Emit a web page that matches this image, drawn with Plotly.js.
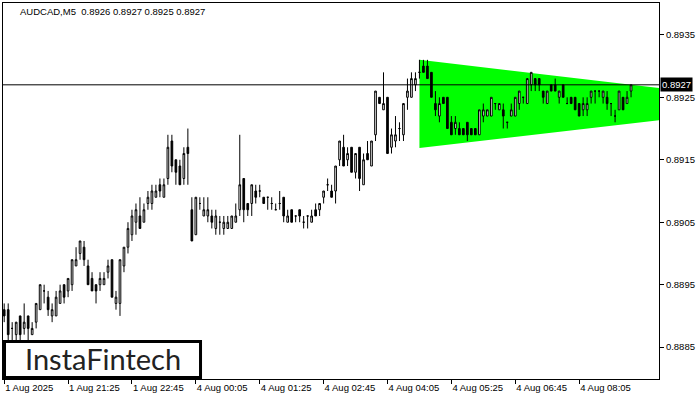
<!DOCTYPE html>
<html>
<head>
<meta charset="utf-8">
<script src="https://cdn.plot.ly/plotly-3.0.1.min.js"></script>
<style>html,body{margin:0;padding:0;background:#fff;}#chart{width:700px;height:400px;}</style>
</head>
<body>
<div id="chart"></div>
<script>
// AUDCAD M5 candles (bar index 0 = 1 Aug 2025 20:05)
const openP = [0.8891,0.8891,0.8888,0.8887,0.8890,0.8888,0.8890,0.8887,0.8889,0.8891,
0.8894,0.8893,0.8890,0.8890,0.8892,0.8895,0.8894,0.8895,0.8898,0.8900,
0.8901,0.8898,0.8896,0.8895,0.8895,0.8895,0.8897,0.8899,0.8892,0.8892,
0.8898,0.8901,0.8903,0.8905,0.8906,0.8905,0.8908,0.8908,0.8909,0.8911,
0.8909,0.8912,0.8918,0.8915,0.8914,0.8912,0.8917,0.8907,0.8903,0.8908,
0.8906,0.8906,0.8906,0.8904,0.8905,0.8904,0.8904,0.8904,0.8905,0.8907,
0.8912,0.8908,0.8908,0.8910,0.8910,0.8909,0.8909,0.8908,0.8907,0.8908,
0.8909,0.8905,0.8907,0.8906,0.8907,0.8905,0.8906,0.8905,0.8907,0.8907,
0.8909,0.8911,0.8910,0.8910,0.8915,0.8917,0.8915,0.8917,0.8913,0.8917,
0.8911,0.8916,0.8914,0.8919,0.8925,0.8923,0.8925,0.8917,0.8918,0.8920,
0.8919,0.8925,0.8925,0.8927,0.8929,0.8930,0.8930,0.8929,0.8924,0.8922,
0.8925,0.8925,0.8921,0.8920,0.8920,0.8920,0.8921,0.8920,0.8920,0.8919,
0.8922,0.8922,0.8922,0.8924,0.8923,0.8923,0.8921,0.8922,0.8922,0.8924,
0.8925,0.8924,0.8927,0.8928,0.8928,0.8926,0.8924,0.8927,0.8927,0.8925,
0.8927,0.8924,0.8925,0.8925,0.8924,0.8923,0.8923,0.8925,0.8926,0.8926,
0.8925,0.8925,0.8924,0.8922,0.8923,0.8925,0.8924,0.8926];
const highP = [0.8892,0.8892,0.8889,0.8889,0.8890,0.8892,0.8890,0.8889,0.8892,0.8895,
0.8895,0.8894,0.8892,0.8894,0.8895,0.8895,0.8896,0.8899,0.8901,0.8902,
0.8902,0.8899,0.8897,0.8895,0.8897,0.8897,0.8899,0.8899,0.8894,0.8899,
0.8901,0.8905,0.8907,0.8908,0.8909,0.8908,0.8910,0.8911,0.8911,0.8912,
0.8912,0.8919,0.8919,0.8915,0.8915,0.8917,0.8920,0.8909,0.8909,0.8909,
0.8909,0.8909,0.8907,0.8907,0.8906,0.8906,0.8906,0.8906,0.8908,0.8919,
0.8912,0.8908,0.8911,0.8911,0.8911,0.8909,0.8909,0.8909,0.8908,0.8910,
0.8909,0.8907,0.8907,0.8906,0.8907,0.8906,0.8906,0.8907,0.8908,0.8908,
0.8910,0.8912,0.8911,0.8914,0.8918,0.8919,0.8917,0.8917,0.8916,0.8917,
0.8916,0.8918,0.8918,0.8926,0.8925,0.8929,0.8925,0.8920,0.8922,0.8921,
0.8924,0.8928,0.8929,0.8929,0.8931,0.8931,0.8931,0.8929,0.8926,0.8925,
0.8925,0.8925,0.8922,0.8922,0.8921,0.8920,0.8921,0.8920,0.8920,0.8923,
0.8924,0.8923,0.8925,0.8924,0.8924,0.8924,0.8921,0.8924,0.8925,0.8926,
0.8925,0.8928,0.8929,0.8928,0.8928,0.8926,0.8926,0.8927,0.8928,0.8926,
0.8927,0.8925,0.8925,0.8925,0.8924,0.8925,0.8925,0.8926,0.8926,0.8926,
0.8926,0.8926,0.8924,0.8923,0.8926,0.8925,0.8926,0.8927];
const lowP = [0.8889,0.8886,0.8886,0.8886,0.8886,0.8887,0.8886,0.8887,0.8888,0.8891,
0.8892,0.8890,0.8889,0.8890,0.8892,0.8892,0.8893,0.8894,0.8898,0.8899,
0.8898,0.8895,0.8894,0.8892,0.8894,0.8895,0.8896,0.8893,0.8891,0.8890,
0.8897,0.8900,0.8902,0.8903,0.8904,0.8905,0.8907,0.8907,0.8909,0.8909,
0.8909,0.8911,0.8913,0.8911,0.8911,0.8911,0.8911,0.8902,0.8903,0.8907,
0.8906,0.8905,0.8904,0.8903,0.8903,0.8903,0.8904,0.8904,0.8905,0.8906,
0.8905,0.8906,0.8906,0.8908,0.8909,0.8908,0.8907,0.8907,0.8907,0.8907,
0.8905,0.8905,0.8905,0.8905,0.8905,0.8904,0.8904,0.8905,0.8906,0.8906,
0.8908,0.8910,0.8909,0.8908,0.8914,0.8914,0.8914,0.8913,0.8912,0.8910,
0.8911,0.8915,0.8914,0.8918,0.8924,0.8923,0.8916,0.8916,0.8917,0.8918,
0.8918,0.8923,0.8925,0.8926,0.8928,0.8929,0.8928,0.8925,0.8922,0.8921,
0.8924,0.8920,0.8919,0.8919,0.8919,0.8919,0.8918,0.8919,0.8919,0.8919,
0.8921,0.8922,0.8922,0.8923,0.8923,0.8920,0.8920,0.8922,0.8922,0.8923,
0.8924,0.8924,0.8926,0.8926,0.8926,0.8924,0.8924,0.8926,0.8926,0.8924,
0.8925,0.8924,0.8924,0.8923,0.8922,0.8922,0.8922,0.8924,0.8924,0.8925,
0.8924,0.8923,0.8922,0.8921,0.8923,0.8923,0.8924,0.8925];
const closeP = [0.8890,0.8887,0.8888,0.8889,0.8887,0.8889,0.8888,0.8888,0.8892,0.8895,
0.8894,0.8891,0.8891,0.8893,0.8894,0.8893,0.8896,0.8899,0.8899,0.8902,
0.8899,0.8895,0.8894,0.8894,0.8896,0.8896,0.8898,0.8893,0.8893,0.8899,
0.8901,0.8904,0.8906,0.8907,0.8904,0.8907,0.8909,0.8910,0.8910,0.8910,
0.8911,0.8917,0.8914,0.8913,0.8911,0.8916,0.8916,0.8902,0.8909,0.8908,
0.8907,0.8907,0.8905,0.8906,0.8905,0.8905,0.8905,0.8906,0.8906,0.8911,
0.8907,0.8907,0.8911,0.8909,0.8910,0.8908,0.8909,0.8908,0.8907,0.8908,
0.8906,0.8906,0.8905,0.8906,0.8906,0.8905,0.8906,0.8906,0.8906,0.8908,
0.8910,0.8911,0.8909,0.8914,0.8918,0.8914,0.8916,0.8913,0.8916,0.8912,
0.8915,0.8915,0.8918,0.8926,0.8924,0.8924,0.8916,0.8919,0.8919,0.8920,
0.8924,0.8926,0.8928,0.8928,0.8929,0.8929,0.8928,0.8925,0.8923,0.8924,
0.8924,0.8920,0.8919,0.8921,0.8919,0.8919,0.8919,0.8919,0.8919,0.8923,
0.8923,0.8923,0.8925,0.8924,0.8924,0.8922,0.8921,0.8923,0.8925,0.8926,
0.8925,0.8928,0.8929,0.8927,0.8927,0.8925,0.8926,0.8926,0.8926,0.8926,
0.8925,0.8924,0.8924,0.8923,0.8922,0.8924,0.8924,0.8926,0.8926,0.8926,
0.8926,0.8924,0.8924,0.8922,0.8926,0.8923,0.8925,0.8927];
const barIdx = openP.map((_, i) => i);

// time axis labels (bar index -> label)
const tickIdx = [0, 16, 32, 48, 64, 80, 96, 112, 128, 144];
const tickText = ["1 Aug 2025","1 Aug 21:25","1 Aug 22:45","4 Aug 00:05","4 Aug 01:25",
                  "4 Aug 02:45","4 Aug 04:05","4 Aug 05:25","4 Aug 06:45","4 Aug 08:05"];

// price axis labels
const priceTicks = [0.8885, 0.8895, 0.8905, 0.8915, 0.8925, 0.8935];

// symmetrical triangle pattern (bar index, price)
const triX = [104, 104, 198.7];
const triY = [0.8931, 0.89169, 0.89239];

const symbol = "AUDCAD,M5";
const lastBid = 0.8927;

const n = closeP.length;
const header = symbol + "  " + openP[n-1].toFixed(4) + " " + highP[n-1].toFixed(4) + " " +
               lowP[n-1].toFixed(4) + " " + closeP[n-1].toFixed(4);

const FONT = "Liberation Sans, Arial, sans-serif";
const FS = 9.5;

const triPath = "M" + triX.map((x, k) => x + "," + triY[k]).join(" L") + " Z";

const traces = [
  {
    type: "candlestick",
    x: barIdx, open: openP, high: highP, low: lowP, close: closeP,
    increasing: {line: {color: "#000000", width: 1}, fillcolor: "#ffffff"},
    decreasing: {line: {color: "#000000", width: 1}, fillcolor: "#000000"},
    whiskerwidth: 0,
    hoverinfo: "skip", showlegend: false
  }
];

const layout = {
  width: 700, height: 400,
  margin: {l: 3, r: 41, t: 3, b: 21, pad: 0},
  paper_bgcolor: "#ffffff", plot_bgcolor: "#ffffff",
  showlegend: false,
  boxgap: 0.4,
  font: {family: FONT, size: FS, color: "#000000"},
  xaxis: {
    type: "linear",
    range: [-0.3, 164],
    tickvals: tickIdx, ticktext: tickText,
    ticks: "outside", ticklen: 4, tickcolor: "#000000", tickwidth: 1,
    ticklabelposition: "outside right",
    showgrid: false, zeroline: false,
    showline: true, linecolor: "#000000", linewidth: 1, mirror: true,
    rangeslider: {visible: false},
    tickfont: {family: FONT, size: FS, color: "#000000"},
    fixedrange: true
  },
  yaxis: {
    side: "right",
    range: [0.88799, 0.89401],
    tickvals: priceTicks, tickformat: ".4f",
    ticks: "outside", ticklen: 4, tickcolor: "#000000", tickwidth: 1,
    showgrid: false, zeroline: false,
    showline: true, linecolor: "#000000", linewidth: 1, mirror: true,
    tickfont: {family: FONT, size: FS, color: "#000000"},
    fixedrange: true
  },
  shapes: [
    {type: "path", xref: "x", yref: "y", path: triPath,
     fillcolor: "#00ff00", line: {width: 0, color: "#00ff00"}, layer: "below"},
    {type: "line", xref: "paper", x0: 0, x1: 1, yref: "y", y0: lastBid, y1: lastBid,
     line: {color: "#000000", width: 1}, layer: "above"},
    {type: "rect", xref: "paper", yref: "paper", x0: 0.0023, x1: 0.3011, y0: 0.004, y1: 0.0997,
     fillcolor: "#ffffff", line: {color: "#000000", width: 3}, layer: "above"}
  ],
  annotations: [
    {xref: "paper", yref: "paper", x: 0.0229, y: 0.9787, xanchor: "left", yanchor: "middle",
     text: header, showarrow: false, font: {family: FONT, size: FS, color: "#000000"}},
    {xref: "paper", yref: "y", x: 1, y: lastBid, xanchor: "left", yanchor: "middle", xshift: 1,
     text: lastBid.toFixed(4), showarrow: false, bgcolor: "#000000", borderpad: 1,
     font: {family: FONT, size: FS, color: "#ffffff"}},
    {xref: "paper", yref: "paper", x: 0.153, y: 0.0532, xanchor: "center", yanchor: "middle",
     text: "InstaFintech", showarrow: false,
     font: {family: "Lato, Open Sans, sans-serif", size: 29, color: "#222222"}}
  ]
};

Plotly.newPlot("chart", traces, layout, {staticPlot: true, displayModeBar: false});
</script>
</body>
</html>
